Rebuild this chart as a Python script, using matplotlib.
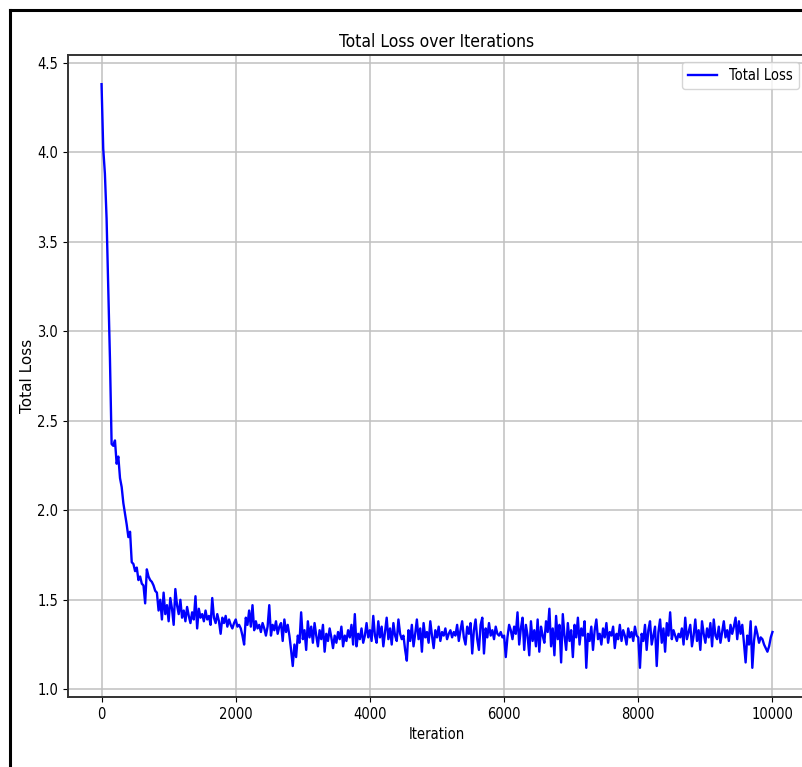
import numpy as np
import matplotlib.pyplot as plt
from matplotlib.lines import Line2D

# iterations, one value every 25 steps
iterations = np.arange(0, 10001, 25)

# total loss, 20 values per row (500 iterations)
total_loss = [
    4.38, 4.02, 3.88, 3.63, 3.24, 2.85, 2.37, 2.36, 2.39, 2.26, 2.30, 2.18, 2.13, 2.04, 1.98, 1.92, 1.85, 1.88, 1.71, 1.70,
    1.66, 1.68, 1.61, 1.63, 1.59, 1.58, 1.48, 1.67, 1.63, 1.61, 1.60, 1.58, 1.55, 1.54, 1.44, 1.50, 1.39, 1.54, 1.42, 1.47,
    1.38, 1.51, 1.45, 1.36, 1.56, 1.47, 1.42, 1.50, 1.40, 1.44, 1.38, 1.46, 1.41, 1.37, 1.43, 1.39, 1.52, 1.34, 1.45, 1.40,
    1.42, 1.38, 1.44, 1.39, 1.41, 1.36, 1.51, 1.40, 1.37, 1.42, 1.38, 1.31, 1.40, 1.37, 1.41, 1.35, 1.39, 1.36, 1.34, 1.37,
    1.39, 1.35, 1.36, 1.34, 1.30, 1.25, 1.40, 1.36, 1.44, 1.35, 1.47, 1.33, 1.38, 1.34, 1.36, 1.32, 1.37, 1.34, 1.30, 1.35,
    1.47, 1.30, 1.36, 1.33, 1.38, 1.31, 1.35, 1.37, 1.27, 1.39, 1.32, 1.36, 1.30, 1.22, 1.13, 1.25, 1.18, 1.30, 1.26, 1.43,
    1.28, 1.33, 1.22, 1.38, 1.29, 1.35, 1.26, 1.37, 1.30, 1.24, 1.33, 1.28, 1.36, 1.21, 1.31, 1.27, 1.34, 1.29, 1.23, 1.30,
    1.26, 1.32, 1.28, 1.35, 1.24, 1.30, 1.27, 1.33, 1.29, 1.36, 1.25, 1.42, 1.24, 1.31, 1.28, 1.34, 1.26, 1.30, 1.37, 1.29,
    1.33, 1.27, 1.41, 1.30, 1.26, 1.38, 1.29, 1.35, 1.24, 1.32, 1.40, 1.28, 1.34, 1.25, 1.37, 1.30, 1.27, 1.39, 1.31, 1.28,
    1.30, 1.22, 1.16, 1.33, 1.27, 1.36, 1.24, 1.31, 1.39, 1.28, 1.34, 1.21, 1.37, 1.29, 1.32, 1.26, 1.38, 1.30, 1.23, 1.33,
    1.29, 1.35, 1.27, 1.32, 1.30, 1.34, 1.28, 1.31, 1.33, 1.29, 1.32, 1.30, 1.36, 1.27, 1.33, 1.38, 1.29, 1.25, 1.35, 1.31,
    1.37, 1.20, 1.33, 1.39, 1.28, 1.22, 1.36, 1.40, 1.20, 1.34, 1.29, 1.37, 1.30, 1.33, 1.28, 1.35, 1.31, 1.30, 1.32, 1.29,
    1.30, 1.18, 1.29, 1.36, 1.33, 1.28, 1.35, 1.31, 1.43, 1.25, 1.34, 1.40, 1.22, 1.36, 1.30, 1.19, 1.38, 1.27, 1.33, 1.24,
    1.39, 1.21, 1.35, 1.30, 1.26, 1.38, 1.32, 1.45, 1.24, 1.34, 1.19, 1.41, 1.28, 1.36, 1.15, 1.42, 1.30, 1.22, 1.37, 1.27,
    1.33, 1.18, 1.36, 1.29, 1.40, 1.25, 1.34, 1.30, 1.38, 1.12, 1.31, 1.27, 1.35, 1.22, 1.33, 1.39, 1.28, 1.31, 1.25, 1.34,
    1.29, 1.37, 1.26, 1.32, 1.30, 1.35, 1.23, 1.31, 1.28, 1.36, 1.27, 1.33, 1.30, 1.25, 1.34, 1.29, 1.32, 1.27, 1.35, 1.30,
    1.29, 1.12, 1.31, 1.27, 1.36, 1.22, 1.33, 1.38, 1.25, 1.30, 1.35, 1.13, 1.32, 1.39, 1.26, 1.34, 1.21, 1.37, 1.30, 1.43,
    1.28, 1.33, 1.30, 1.27, 1.31, 1.29, 1.34, 1.25, 1.40, 1.28, 1.32, 1.36, 1.24, 1.30, 1.39, 1.27, 1.33, 1.22, 1.38, 1.31,
    1.26, 1.34, 1.29, 1.37, 1.24, 1.39, 1.30, 1.28, 1.35, 1.26, 1.32, 1.38, 1.29, 1.33, 1.27, 1.36, 1.31, 1.35, 1.40, 1.28,
    1.38, 1.31, 1.36, 1.26, 1.15, 1.30, 1.25, 1.38, 1.12, 1.27, 1.35, 1.31, 1.26, 1.29, 1.28, 1.25, 1.23, 1.21, 1.24, 1.29,
    1.32,
]

plt.rcParams['font.family'] = 'DejaVu Sans'
plt.rcParams['font.stretch'] = 'condensed'

fig = plt.figure(figsize=(8.03, 7.67), dpi=100)
ax = fig.add_axes([68 / 803, 70 / 767, 738 / 803, 642 / 767])

ax.plot(iterations, total_loss, color='blue', linewidth=1.7, label='Total Loss')

ax.set_title('Total Loss over Iterations', fontsize=12.5)
ax.set_xlabel('Iteration', fontsize=10.5)
ax.set_ylabel('Total Loss', fontsize=11, fontstretch='normal', labelpad=2)
ax.grid(True, color='#c0c0c0', linewidth=1.1)
ax.legend(loc='upper right', fontsize=10.5)
ax.tick_params(labelsize=10.5)
for s in ax.spines.values():
    s.set_linewidth(1.4)
    s.set_color('#333333')

# black frame of the screenshot (left and top edges)
fig.add_artist(Line2D([10 / 803, 10 / 803], [0, 757 / 767], color='black', linewidth=2.2))
fig.add_artist(Line2D([10 / 803, 1], [757 / 767, 757 / 767], color='black', linewidth=2.2))

fig.savefig('out.png', dpi=100)
